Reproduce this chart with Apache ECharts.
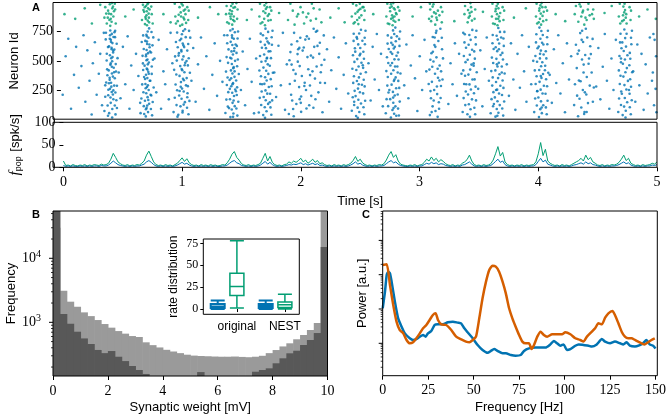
<!DOCTYPE html>
<html><head><meta charset="utf-8">
<script src="https://cdn.jsdelivr.net/npm/echarts@6/dist/echarts.min.js"></script>
<style>html,body{margin:0;padding:0;background:#fff}#c{width:669px;height:419px}</style>
</head><body><div id="c"></div>
<script>
// ---------- DATA ----------
// Panel A raster: "time_ms/neuronId"
const spikeExc = `405/52 431/88 418/140 440/171 397/205 426/233 412/260 447/288 421/312 409/337 436/365 428/392 401/418 443/441 415/466 430/497 422/522 411/548 438/571 426/599 404/624 432/652 419/681 441/705 427/731 414/760 395/30 452/118 436/212 423/279 409/355 446/402 418/478 433/533 425/612 410/690 449/745 430/15 416/186 440/247 403/308 427/449 439/587 420/663 412/720
712/24 731/61 719/97 740/133 705/158 727/189 716/222 736/250 722/276 709/301 745/329 725/352 714/381 733/407 720/433 702/459 738/486 726/512 713/540 731/566 719/593 744/617 723/644 708/671 735/698 717/724 728/752 740/778 699/45 752/210 724/118 711/265 737/390 729/470 715/555 742/640 721/710 706/345 733/165 726/425 718/505 747/580 713/85 730/290 722/665
985/38 1021/72 1003/110 1040/146 1012/175 992/203 1030/238 1016/262 1049/290 1007/318 1024/347 995/371 1036/402 1013/430 1001/455 1043/483 1019/511 1028/538 990/566 1010/592 1034/618 1022/649 998/676 1047/703 1015/728 1026/756 978/22 1060/188 1005/278 1032/334 1018/419 1054/499 987/545 1027/633 1009/690 1041/771 1020/57 996/242 1038/462 1011/580 1030/125
1422/18 1447/49 1433/83 1458/112 1440/140 1418/171 1452/199 1437/227 1462/255 1429/282 1444/309 1415/336 1456/363 1439/391 1426/418 1449/446 1434/473 1461/500 1420/527 1443/554 1431/581 1455/608 1438/636 1424/663 1450/690 1435/718 1459/745 1441/772 1410/95 1468/240 1428/350 1446/437 1453/585 1436/699 1417/260 1444/20 1449/160 1430/520 1465/640 1421/760 1439/300 1457/410
1697/35 1725/68 1710/102 1738/131 1718/162 1701/190 1731/219 1716/247 1744/276 1707/303 1726/331 1713/359 1740/388 1722/415 1699/442 1735/470 1717/498 1729/526 1705/554 1742/581 1720/609 1711/637 1733/665 1724/693 1695/720 1738/748 1716/776 1752/145 1688/300 1727/520 1745/650 1712/12
1912/45 1948/88 1975/130 2003/172 1931/210 2056/250 2089/289 1962/330 2021/370 2110/410 2145/452 1987/493 2068/532 1925/575 2037/615 2172/655 2008/698 1956/740 2120/775 2194/60 2083/120 1940/160 2015/195 2160/230 1998/275 2045/312 2131/348 1969/388 2075/428 2186/465 1917/505 2097/545 2028/588 2152/628 1982/668 2063/710 2139/750 1953/25 2118/98 2042/285 2003/455 2167/560 1934/640 2080/690 2210/510 2012/140 1990/600 2100/200 2125/620
2476/28 2503/62 2489/99 2517/134 2495/167 2472/198 2508/231 2492/262 2525/295 2483/327 2500/358 2514/390 2478/421 2497/452 2521/484 2486/515 2506/547 2469/579 2511/610 2494/641 2529/672 2481/703 2502/735 2517/766 2460/150 2535/440 2490/12 2512/560 2485/690 2498/300
2768/15 2795/47 2781/79 2806/110 2788/141 2762/172 2800/203 2785/234 2812/265 2774/296 2793/327 2808/358 2770/389 2789/420 2803/451 2778/482 2798/513 2815/544 2766/575 2792/606 2783/637 2809/668 2772/699 2796/730 2786/761 2805/785 2755/250 2825/400 2790/95 2779/560 2801/620 2813/30 2764/460 2798/340 2787/185 2818/710 2771/655
3095/35 3142/70 3118/110 3170/145 3104/180 3156/215 3131/250 3188/285 3112/320 3163/355 3138/390 3091/425 3177/460 3125/495 3150/530 3108/565 3197/600 3133/635 3166/670 3119/705 3146/740 3183/775 3160/20 3127/160 3201/340 3099/510 3141/620 3172/90 3115/450 3154/280 3135/700 3189/410
3410/42 3436/85 3422/128 3448/170 3415/212 3439/255 3427/298 3452/340 3418/382 3433/425 3444/468 3412/510 3430/552 3449/595 3420/638 3437/680 3426/722 3451/765 3400/300 3462/480 3431/20
3645/22 3670/55 3656/88 3681/121 3662/154 3640/187 3675/220 3659/253 3686/286 3650/319 3667/352 3679/385 3644/418 3662/451 3673/484 3653/517 3688/550 3660/583 3647/616 3676/649 3664/682 3655/715 3683/748 3669/781 3632/130 3698/400 3661/30 3674/600 3650/250 3693/700 3657/470
4010/18 4034/52 4021/86 4046/119 4027/153 4005/186 4040/220 4024/253 4051/287 4015/320 4031/354 4044/387 4012/421 4028/454 4038/488 4018/521 4049/555 4026/588 4008/622 4036/655 4022/689 4042/722 4030/756 4014/785 3995/240 4060/420 4033/100 4019/560 4047/640 4025/370
4338/25 4392/62 4365/100 4421/138 4350/175 4407/212 4378/250 4436/288 4359/325 4411/362 4384/400 4327/438 4426/475 4371/512 4398/550 4345/588 4440/625 4380/662 4415/700 4356/738 4403/775 4462/150 4312/300 4389/45 4430/520 4368/680 4452/400 4334/560 4395/230
4712/35 4738/72 4724/108 4750/145 4730/182 4705/218 4743/255 4727/292 4756/328 4718/365 4735/402 4747/438 4714/475 4731/512 4752/548 4721/585 4740/622 4709/658 4733/695 4745/732 4726/768 4765/250 4698/520 4736/15
4975/120 4988/260 4965/400 4992/540 4980/680 4958/330 4995/60 4970/730
365/70 372/193 380/314 388/427 385/561 376/684 458/41 465/163 470/287 462/409 475/523 468/646 455/758 392/118 398/252 390/377 384/503 395/618 457/229 452/351 460/472 448/597 454/703 378/741 470/96
668/52 675/177 682/298 690/421 685/543 678/662 765/33 770/148 778/272 762/388 772/509 768/633 760/747 695/112 692/231 698/362 688/478 695/602 755/88 758/203 750/329 762/452 756/571 690/718 775/701
945/61 955/184 962/297 950/423 958/538 965/661 1070/42 1078/157 1065/283 1082/398 1072/522 1068/644 1075/757 970/121 975/248 968/383 972/502 980/617 1058/98 1062/223 1055/352 1065/461 1060/588 975/742 1085/699
1380/53 1388/168 1392/293 1385/408 1390/532 1395/651 1480/31 1488/149 1478/273 1492/387 1484/512 1476/628 1486/752 1400/108 1404/232 1398/357 1402/483 1406/598 1472/92 1475/208 1470/331 1478/454 1473/568 1396/719 1482/692
1660/58 1668/183 1672/302 1665/417 1670/541 1675/663 1765/38 1772/161 1768/282 1778/398 1762/523 1770/638 1775/758 1680/122 1684/238 1678/368 1682/492 1686/612 1758/101 1755/218 1760/343 1752/458 1757/582 1676/733 1768/702
1920/302 1950/421 1985/558 2015/63 2050/682 2090/378 2135/171 2175/312 2205/718 1935/468 2000/611 2060/92 2115/528 2150/757 2180/402
2440/72 2448/188 2452/311 2445/432 2450/548 2455/671 2545/43 2552/158 2548/281 2558/402 2542/518 2550/642 2555/758 2460/122 2464/243 2458/368 2462/491 2466/608 2538/102 2535/221 2540/338 2532/462 2537/578 2456/732 2548/698
2725/51 2732/172 2738/288 2730/412 2735/531 2740/648 2835/32 2842/151 2838/268 2848/392 2832/511 2840/628 2845/752 2745/112 2748/229 2742/361 2746/482 2750/601 2828/91 2825/212 2830/328 2822/451 2827/572 2742/718 2838/688
3085/302 3110/61 3150/758 3185/182 3205/521 3120/578 3160/432 3195/698 3100/241 3175/331
3370/62 3378/181 3382/302 3375/418 3380/541 3385/658 3475/42 3482/161 3478/279 3488/402 3472/519 3480/641 3485/758 3392/121 3396/238 3390/372 3394/489 3398/612 3468/98 3465/222 3470/341 3462/459 3467/581 3388/728 3478/702
3605/51 3612/172 3618/288 3610/412 3615/528 3620/651 3710/31 3718/152 3712/268 3722/391 3708/512 3715/628 3720/748 3625/111 3628/232 3622/358 3626/481 3630/602 3702/92 3700/208 3705/331 3698/452 3703/568 3622/722 3712/691
3970/61 3978/178 3982/302 3975/418 3980/542 3985/658 4075/42 4082/158 4078/282 4088/398 4072/521 4080/642 4085/758 3992/118 3996/242 3990/368 3994/492 3998/608 4068/101 4065/218 4070/342 4062/458 4067/582 3988/728 4078/702
4305/121 4320/638 4345/332 4372/758 4410/62 4445/558 4470/272 4385/468 4330/202 4460/688
4675/62 4682/178 4688/302 4680/418 4685/542 4690/658 4780/42 4788/162 4782/278 4792/402 4776/518 4785/642 4790/758 4698/122 4700/238 4694/372 4698/488 4702/608 4772/102 4770/218 4775/342 4768/462 4772/568 4694/732 4782/698
15/210 40/540 62/690 85/90 110/380 128/620 150/270 172/455 190/720 205/150 222/590 240/330 258/40 268/480 285/660 300/210 318/390 330/560 345/120 360/740 372/290
485/400 500/180 520/620 540/300 560/710 575/90 590/460 610/250 630/560 650/370 665/140
785/520 800/230 820/680 840/90 860/410 875/300 890/600 905/170 920/740 935/480
1095/330 1110/610 1130/150 1150/470 1175/700 1200/260 1220/540 1245/80 1270/380 1290/650 1310/200 1335/500 1355/320 1370/720
1510/250 1525/580 1545/120 1565/430 1585/690 1600/320 1620/50 1638/520
1790/400 1805/190 1825/630 1845/290 1862/740 1880/80 1895/470
2215/310 2232/600 2250/150 2268/420 2290/700 2310/260 2330/530 2350/90 2372/380 2390/650 2410/220
2580/480 2598/160 2615/620 2632/340 2650/730 2668/250 2685/560 2700/110
2880/290 2898/640 2915/180 2935/460 2950/720 2970/350 2990/70 3010/540 3030/250 3050/680 3065/410
3250/130 3268/480 3285/300 3305/650 3322/200 3340/560 3360/390 3375/740
3500/260 3518/590 3535/110 3555/430 3572/700 3590/330
3740/470 3758/200 3775/650 3795/340 3812/80 3830/560 3850/270 3868/720 3885/410 3905/150 3925/620 3945/300 3962/500
4100/380 4118/140 4135/600 4155/310 4172/720 4190/220 4210/480 4228/60 4245/650 4262/340 4280/540
4490/280 4508/610 4525/170 4545/450 4562/730 4580/330 4600/90 4618/520 4635/250 4655/680
4800/410 4818/150 4835/640 4852/290 4870/560 4888/80 4905/470 4922/220 4940/700`;

const spikeInh = `385/820 402/905 418/860 431/950 410/985 425/835 440/880 396/930 414/800 437/965 421/900 407/850 445/925 428/995 393/870
705/815 718/890 731/950 712/860 725/985 740/830 698/920 722/805 736/905 714/970 728/845 744/940 709/875 733/995 720/925 703/960 738/870
980/840 1005/915 1028/870 995/960 1018/810 1042/940 1012/990 1035/855 988/895 1022/975 1050/825 1008/880 1030/930 1000/800 1045/900
1410/820 1432/900 1447/955 1425/860 1440/990 1455/840 1418/935 1437/810 1450/880 1428/970 1412/905 1444/850 1435/925 1460/960 1422/880
1690/830 1715/910 1730/960 1705/860 1722/995 1740/845 1698/925 1712/805 1735/885 1719/945 1746/900 1708/975
1905/850 1945/930 1980/880 2010/960 2040/820 2075/905 2105/990 2140/860 2170/940 1925/990 1960/810 2030/915 2060/875 2120/950 2185/830 1990/900 2095/845
2465/830 2488/920 2503/870 2478/975 2512/945 2495/815 2520/890 2470/905 2507/990 2485/850 2530/960 2498/935
2755/815 2778/890 2793/950 2770/860 2788/995 2805/835 2762/925 2782/805 2798/880 2775/965 2810/910 2790/845 2768/985 2801/940 2784/870 2815/900 2760/955
3105/840 3130/915 3150/870 3118/965 3162/930 3140/810 3175/890 3098/940 3125/985 3155/850 3188/960 3112/880 3145/905
3412/830 3428/910 3440/960 3420/870 3435/995 3448/845 3415/935 3430/885 3445/920
3640/815 3658/900 3670/950 3650/860 3665/990 3680/840 3645/925 3662/805 3675/880 3655/970 3685/910 3648/945 3668/860
4008/830 4025/905 4038/960 4018/860 4032/995 4045/840 4012/930 4028/810 4040/885 4022/975 4050/920 4015/950
4340/835 4375/915 4400/870 4360/965 4420/940 4390/810 4435/890 4350/985 4410/850 4380/930 4455/900 4365/880 4425/990
4708/840 4725/915 4738/870 4718/965 4732/935 4745/820 4715/890 4728/990 4742/900 4722/850
365/870 455/940 460/820 372/960 380/905 452/990
680/850 762/900 688/980 770/820 692/935 758/965
960/880 1068/850 955/990 1072/930 965/820 1060/960
1385/900 1478/860 1390/970 1482/940 1395/830 1472/995
1665/880 1760/850 1670/990 1765/930 1675/820 1755/960
2440/880 2545/850 2450/990 2548/930 2455/820 2538/960
2730/880 2835/850 2738/990 2840/930 2742/820 2828/960
3088/860 3200/920 3095/990 3195/830
3385/900 3470/860 3390/970 3475/940
3615/880 3712/850 3620/990 3718/930 3625/820 3705/960
3985/880 4072/850 3990/990 4078/930 3995/820 4065/960
4310/900 4470/860 4320/970 4465/940
4680/880 4778/850 4688/990 4782/930 4692/820 4770/960
30/900 120/860 200/950 260/820 330/980 540/880 610/940 860/900 920/830 1150/870 1250/960 1320/900 1560/850 1600/940 1830/910 2260/870 2330/950 2380/830 2620/900 2950/880 3020/960 3300/840 3540/920 3800/870 3900/950 4150/900 4230/840 4560/910 4620/970 4850/880 4920/940 4990/860`;

// Panel A population rate (spk/s), one value every 20 ms from 0 to 5 s
const rateStep = 0.02;
const rateInh = [14,4,5,3,6,4,3,5,4,6, 3,5,4,6,5,4,7,5,6,9, 18,31,22,12,8,5,4,6,3,5, 4,6,5,9,14,27,36,24,12,6,
 4,5,3,6,4,5,3,6,9,15, 21,13,19,10,6,4,5,3,6,4, 5,3,6,4,5,3,4,6,5,10, 18,29,35,22,16,8,5,4,6,3,
 5,4,6,9,20,31,14,24,11,6, 4,5,3,6,7,12,9,14,11,15, 20,12,16,9,13,18,11,15,8,10, 6,4,5,3,6,4,5,3,6,4,
 6,9,15,24,13,18,10,6,4,5, 3,5,4,6,5,8,16,27,35,22, 28,14,7,5,4,3,5,4,6,3, 5,6,11,18,14,23,15,20,12,17,
 13,8,5,4,6,3,5,4,9,12, 17,27,14,6,4,5,3,6,4,5, 8,16,30,46,25,33,12,6,4,5, 3,5,4,6,3,5,4,5,6,12,
 30,55,26,40,14,9,6,4,5,3, 6,4,5,3,6,9,12,15,20,14, 27,17,22,12,9,5,4,6,3,5, 4,6,5,7,11,18,27,15,20,9,
 6,4,5,3,6,4,5,6,9,7,12];
const rateExc = [4,2,3,2,3,2,2,3,2,3, 2,3,2,3,3,2,4,3,3,5, 9,14,10,6,4,3,2,3,2,3, 2,3,3,5,7,12,15,11,6,3,
 2,3,2,3,2,3,2,3,5,8, 11,7,9,5,3,2,3,2,3,2, 3,2,3,2,3,2,2,3,3,5, 9,13,15,10,8,4,3,2,3,2,
 3,2,3,5,9,13,7,11,6,3, 2,3,2,3,4,6,5,7,6,8, 10,6,8,5,7,9,6,8,4,5, 3,2,3,2,3,2,3,2,3,2,
 3,5,8,12,7,9,5,3,2,3, 2,3,2,3,3,4,8,12,15,10, 12,7,4,3,2,2,3,2,3,2, 3,3,6,9,7,11,8,10,6,8,
 7,4,3,2,3,2,3,2,5,6, 9,12,7,3,2,3,2,3,2,3, 4,8,13,18,11,14,6,3,2,3, 2,3,2,3,2,3,2,3,3,6,
 13,20,12,16,7,5,3,2,3,2, 3,2,3,2,3,5,6,8,10,7, 12,8,10,6,5,3,2,3,2,3, 2,3,3,4,6,9,12,8,10,5,
 3,2,3,2,3,2,3,3,5,4,6];

// Panel B histogram of synaptic weights (bin centres, 0.25 mV bins)
const binWidth = 0.25;
const weightBins = [0.125,0.375,0.625,0.875,1.125,1.375,1.625,1.875,2.125,2.375,
 2.625,2.875,3.125,3.375,3.625,3.875,4.125,4.375,4.625,4.875,
 5.125,5.375,5.625,5.875,6.125,6.375,6.625,6.875,7.125,7.375,
 7.625,7.875,8.125,8.375,8.625,8.875,9.125,9.375,9.625,9.875];
const histOriginal = [30000,3100,2100,1750,1430,1250,1085,940,825,730,665,610,590,487,440,405,372,350,330,312,
 302,298,295,292,290,290,292,288,285,290,300,330,369,420,470,543,633,758,975,54000];
const histNest = [60000,1350,950,713,560,458,370,330,356,290,248,208,180,156,'-','-','-','-','-','-',
 '-',167,'-','-','-','-','-','-','-',169,180,191,229,274,328,360,442,529,680,15000];

// Inset boxplots: [slot, min, Q1, median, Q3, max]
const boxSlots = ['', '', '', 'original', '', '', '', '', 'NEST', ''];
const boxExc = [[1, 0, 1.1, 3.0, 5.7, 9.8], [6, 0, 1.1, 3.4, 5.7, 9.8]];
const boxInh = [[3, 1.1, 15.5, 25.7, 40.9, 78], [8, 0, 1.8, 4.9, 8.0, 17]];

// Panel C power spectra [Hz, a.u.]
const powerBlue = [[0,10.5],[1.26,32],[2.2,98],[3.1,122],[4.0,110],[4.9,62.7],[6.7,16.4],[8.5,5.35],[10.4,3.05],[12.2,1.95],
 [14.9,1.40],[16.7,1.25],[18.5,1.33],[20.4,1.56],[22.2,1.75],[23.6,1.56],[24.9,1.95],[26.7,2.28],[28.6,3.42],[30.4,3.57],
 [33.1,3.57],[35.8,4.09],[38.6,4.28],[41.3,4.0],[43.1,3.82],[44.9,2.73],[46.7,2.09],[49.5,1.40],[52.2,0.89],[54.9,0.64],
 [57.7,0.53],[59.5,0.60],[61.3,0.68],[63.1,0.60],[65.9,0.51],[67.7,0.51],[70.5,0.456],[73.1,0.436],[75.9,0.456],[77.7,0.60],
 [80.4,0.71],[84.1,0.75],[86.8,0.75],[89.5,0.75],[92.2,0.93],[94.1,1.17],[95.9,1.0],[97.7,0.85],[99.5,0.93],[101.3,0.64],
 [103.2,0.68],[105.9,0.85],[107.7,0.93],[110.4,0.89],[113.2,0.85],[115.0,0.80],[117.7,0.93],[120.5,1.33],[122.3,1.12],[125.0,1.0],
 [127.7,1.12],[130.5,1.0],[132.3,0.93],[134.1,1.07],[135.9,0.85],[138.7,0.80],[141.4,0.89],[143.2,1.0],[145.0,1.25],[146.8,0.93],
 [148.7,0.85],[150,0.71]];
const powerOrange = [[0,192],[2.2,200],[4.0,50],[5.8,13.1],[7.6,4.3],[9.4,2.44],[11.3,1.95],[13.1,1.25],[14.9,1.0],[16.7,1.07],
 [18.5,1.40],[20.4,1.95],[22.2,2.73],[24.0,3.42],[25.8,4.78],[27.6,6.68],[29.1,7.48],[30.4,4.78],[32.2,3.57],[34.9,3.42],
 [37.7,2.44],[40.4,1.56],[43.1,1.31],[45.8,1.12],[47.7,1.07],[49.5,1.25],[51.3,1.56],[53.1,5.35],[54.9,20.5],[56.8,62.7],
 [58.6,137],[60.4,183],[62.2,171],[64.0,122],[65.9,62.7],[67.7,28.6],[69.5,10.5],[71.3,5.35],[73.1,3.05],[75.0,1.75],
 [76.8,1.12],[78.6,1.0],[80.4,1.0],[81.9,0.68],[83.2,0.89],[85.0,1.56],[86.8,2.18],[88.6,1.75],[90.4,1.56],[93.2,1.83],
 [95.9,1.83],[98.6,1.83],[100.4,2.09],[103.2,1.83],[105.9,1.40],[108.6,1.25],[110.4,1.12],[112.3,1.56],[115.0,2.18],[116.8,2.73],
 [118.6,3.82],[120.5,3.57],[122.3,5.58],[124.1,7.48],[126.3,8.75],[127.7,6.68],[129.6,3.82],[131.4,2.18],[133.2,1.56],[135.0,1.40],
 [136.8,1.40],[138.7,1.25],[140.5,1.12],[142.3,1.0],[144.1,0.93],[145.9,1.07],[147.8,1.25],[149.6,1.40]];

// ---------- CHART ----------
const SERIF = 'Liberation Serif', SANS = 'Liberation Sans';
const BLUE = '#0173b2', GREEN = '#029e73', ORANGE = '#d55e00';
const G = [[53,2.5,604,116.7],[53,122.3,604,45],[53,211,274.5,165],[203.3,239,96,75.3],[382.7,211,274.6,164.7]];
const HIST_MIN = 145, HIST_MAX = 54800, POW_MIN = 0.1136, POW_MAX = 7194;

function parseSpikes(s) {
  return s.trim().split(/\s+/).map(p => { const a = p.split('/'); return [Number(a[0]) / 1000, Number(a[1])]; });
}
const tickStyle = {color: '#000', width: 1};
const nameStyle = {fontFamily: SANS, fontSize: 13, color: '#000'};
const lab = (sz, m) => ({fontFamily: SERIF, fontSize: sz, color: '#000', margin: m});

function histRender(color) {
  return function (params, api) {
    const c = api.value(0), v = api.value(1);
    if (!isFinite(v)) return null;
    const a = api.coord([c - binWidth / 2, v]);
    const b = api.coord([c + binWidth / 2, HIST_MIN]);
    const cs = params.coordSys;
    const shape = echarts.graphic.clipRectByRect(
      {x: a[0], y: a[1], width: b[0] - a[0] + 0.6, height: b[1] - a[1]},
      {x: cs.x, y: cs.y, width: cs.width, height: cs.height});
    return shape ? {type: 'rect', shape: shape, style: {fill: color}} : null;
  };
}

const chart = echarts.init(document.getElementById('c'));
const option = {
  animation: false,
  backgroundColor: '#fff',
  grid: G.map(g => ({left: g[0], top: g[1], width: g[2], height: g[3]})),
  xAxis: [
    {gridIndex: 0, type: 'value', min: 0, max: 5, show: false},
    {gridIndex: 1, type: 'value', min: 0, max: 5, interval: 1, splitLine: {show: false},
     axisLine: {show: false}, axisTick: {show: true, length: 4, lineStyle: tickStyle}, axisLabel: lab(14, 8),
     name: 'Time [s]', nameLocation: 'middle', nameGap: 28, nameTextStyle: nameStyle},
    {gridIndex: 2, type: 'value', min: 0, max: 10, interval: 2, splitLine: {show: false},
     axisLine: {show: false}, axisTick: {show: true, length: 4, lineStyle: tickStyle}, axisLabel: lab(14, 8),
     name: 'Synaptic weight [mV]', nameLocation: 'middle', nameGap: 25, nameTextStyle: nameStyle},
    {gridIndex: 3, type: 'category', data: boxSlots, position: 'bottom', axisLine: {show: false},
     axisTick: {show: true, alignWithLabel: true, length: 3, lineStyle: tickStyle, interval: (i, v) => v !== ''},
     axisLabel: {interval: 0, fontFamily: SANS, fontSize: 12, color: '#000', margin: 6}},
    {gridIndex: 3, type: 'category', data: boxSlots, position: 'bottom', show: false},
    {gridIndex: 4, type: 'value', min: 0, max: 150, interval: 25, splitLine: {show: false},
     axisLine: {show: false}, axisTick: {show: true, length: 4, lineStyle: tickStyle}, axisLabel: lab(14, 8),
     name: 'Frequency [Hz]', nameLocation: 'middle', nameGap: 25, nameTextStyle: nameStyle}
  ],
  yAxis: [
    {gridIndex: 0, type: 'value', min: 0, max: 1000, splitLine: {show: false}, axisLine: {show: false},
     axisTick: {show: true, length: 4, lineStyle: tickStyle, customValues: [250, 500, 750]},
     axisLabel: Object.assign(lab(14, 8), {customValues: [250, 500, 750]}),
     name: 'Neuron Id', nameLocation: 'middle', nameGap: 35, nameTextStyle: nameStyle},
    {gridIndex: 1, type: 'value', min: 0, max: 100, interval: 50, splitLine: {show: false}, axisLine: {show: false},
     axisTick: {show: true, length: 4, lineStyle: tickStyle}, axisLabel: lab(14, 8),
     name: '{f|f}{s|pop} [spk/s]', nameLocation: 'middle', nameGap: 34,
     nameTextStyle: Object.assign({}, nameStyle, {rich: {
       f: {fontFamily: SERIF, fontStyle: 'italic', fontSize: 15, color: '#000'},
       s: {fontFamily: SANS, fontSize: 9, color: '#000', padding: [7, 1, 0, 0]}}})},
    {gridIndex: 2, type: 'log', logBase: 10, min: HIST_MIN, max: HIST_MAX, splitLine: {show: false},
     axisLine: {show: false}, axisTick: {show: false},
     axisLabel: {margin: 12, color: '#000',
       formatter: v => { const e = Math.log10(v); return Math.abs(e - Math.round(e)) < 1e-6 ? '{b|10}{s|' + Math.round(e) + '}' : ''; },
       rich: {b: {fontFamily: SERIF, fontSize: 14, color: '#000'}, s: {fontFamily: SERIF, fontSize: 10, color: '#000', padding: [0, 0, 8, 0]}}},
     name: 'Frequency', nameLocation: 'middle', nameGap: 33, nameTextStyle: nameStyle},
    {gridIndex: 3, type: 'value', min: -6, max: 80, splitLine: {show: false}, axisLine: {show: false},
     axisTick: {show: true, length: 3, lineStyle: tickStyle, customValues: [0, 25, 50, 75]},
     axisLabel: Object.assign(lab(12, 5), {customValues: [0, 25, 50, 75]}),
     name: 'rate distribution', nameLocation: 'middle', nameGap: 24, nameTextStyle: Object.assign({}, nameStyle, {fontSize: 12})},
    {gridIndex: 4, type: 'log', logBase: 10, min: POW_MIN, max: POW_MAX, splitLine: {show: false},
     axisLine: {show: false}, axisTick: {show: false}, axisLabel: {show: false},
     name: 'Power [a.u.]', nameLocation: 'middle', nameGap: 14, nameTextStyle: nameStyle}
  ],
  series: [
    {type: 'scatter', xAxisIndex: 0, yAxisIndex: 0, data: parseSpikes(spikeExc), symbolSize: 2.6, itemStyle: {color: BLUE}, silent: true},
    {type: 'scatter', xAxisIndex: 0, yAxisIndex: 0, data: parseSpikes(spikeInh), symbolSize: 2.6, itemStyle: {color: GREEN}, silent: true},
    {type: 'line', xAxisIndex: 1, yAxisIndex: 1, data: rateInh.map((v, i) => [i * rateStep, v]), showSymbol: false,
     lineStyle: {color: GREEN, width: 1}, silent: true},
    {type: 'line', xAxisIndex: 1, yAxisIndex: 1, data: rateExc.map((v, i) => [i * rateStep, v]), showSymbol: false,
     lineStyle: {color: BLUE, width: 1}, silent: true},
    {type: 'custom', xAxisIndex: 2, yAxisIndex: 2, data: weightBins.map((c, i) => [c, histOriginal[i]]),
     renderItem: histRender('#9a9a9a'), silent: true},
    {type: 'custom', xAxisIndex: 2, yAxisIndex: 2, data: weightBins.map((c, i) => [c, histNest[i]]),
     renderItem: histRender('#585858'), silent: true},
    {type: 'boxplot', xAxisIndex: 4, yAxisIndex: 3, data: boxExc, encode: {x: 0, y: [1, 2, 3, 4, 5]}, boxWidth: [14, 14],
     itemStyle: {color: '#fff', borderColor: BLUE, borderWidth: 2}, silent: true},
    {type: 'boxplot', xAxisIndex: 3, yAxisIndex: 3, data: boxInh, encode: {x: 0, y: [1, 2, 3, 4, 5]}, boxWidth: [14, 14],
     itemStyle: {color: '#fff', borderColor: GREEN, borderWidth: 1.5}, silent: true},
    {type: 'line', xAxisIndex: 5, yAxisIndex: 4, data: powerBlue, showSymbol: false, smooth: 0.2,
     lineStyle: {color: BLUE, width: 2.5}, silent: true},
    {type: 'line', xAxisIndex: 5, yAxisIndex: 4, data: powerOrange, showSymbol: false, smooth: 0.2,
     lineStyle: {color: ORANGE, width: 2.5}, silent: true}
  ],
  graphic: G.map((g, i) => ({type: 'rect', id: 'frame' + i, z: 100, silent: true,
      shape: {x: g[0], y: g[1], width: g[2], height: g[3]}, style: {fill: null, stroke: '#000', lineWidth: 1}}))
    .concat([
      {type: 'text', id: 'lA', left: 32, top: 2, z: 100, style: {text: 'A', font: 'bold 11px Liberation Sans', fill: '#000'}},
      {type: 'text', id: 'lB', left: 32, top: 209, z: 100, style: {text: 'B', font: 'bold 11px Liberation Sans', fill: '#000'}},
      {type: 'text', id: 'lC', left: 362, top: 209, z: 100, style: {text: 'C', font: 'bold 11px Liberation Sans', fill: '#000'}}
    ])
};
chart.setOption(option);

// log-axis major/minor tick marks placed through the axis scale
const extra = [];
function addLogTicks(yIdx, xLeft, lo, hi, tag) {
  for (let e = Math.floor(Math.log10(lo)); e <= Math.ceil(Math.log10(hi)); e++) {
    for (let m = 1; m <= 9; m++) {
      const v = m * Math.pow(10, e);
      if (v <= lo || v >= hi) continue;
      const y = chart.convertToPixel({yAxisIndex: yIdx}, v);
      const len = m === 1 ? 4 : 2;
      extra.push({type: 'line', id: tag + e + '_' + m, z: 100, silent: true,
        shape: {x1: xLeft - len, y1: y, x2: xLeft, y2: y}, style: {stroke: '#000', lineWidth: m === 1 ? 1 : 0.8}});
    }
  }
}
addLogTicks(2, G[2][0], HIST_MIN, HIST_MAX, 'h');
addLogTicks(4, G[4][0], POW_MIN, POW_MAX, 'p');
chart.setOption({graphic: extra});
</script>
</body></html>
